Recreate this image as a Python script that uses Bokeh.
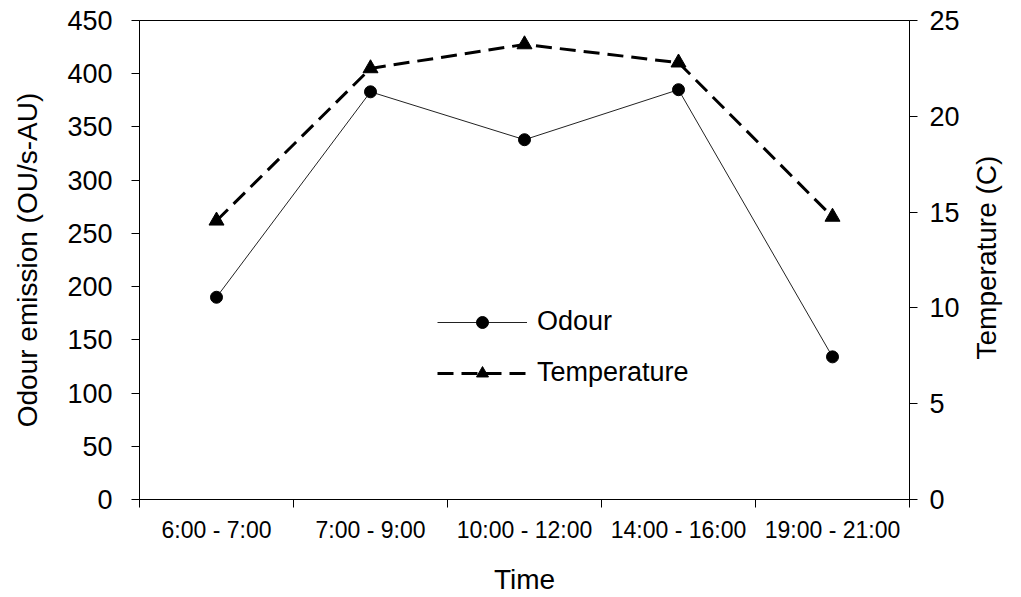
import numpy as np
from bokeh.plotting import figure
from bokeh.models import Range1d, LinearAxis, FixedTicker, Legend, LegendItem
from bokeh.embed import file_html
from bokeh.resources import INLINE

# ---- data ----
categories = ["6:00 - 7:00", "7:00 - 9:00", "10:00 - 12:00", "14:00 - 16:00", "19:00 - 21:00"]
odour = [190, 383, 338, 385, 134]
temperature = [14.55, 22.5, 23.75, 22.8, 14.75]
left_ticks = [0, 50, 100, 150, 200, 250, 300, 350, 400, 450]
right_ticks = [0, 5, 10, 15, 20, 25]

FONT = "Liberation Sans"

n = len(categories)
xc = list(np.arange(n) + 0.5)          # category centres
bounds = list(range(n + 1))            # category boundaries

BL, BR, BT, BB = 139, 111, 20, 98
FW, FH = 770, 479

p = figure(width=BL + FW + BR, height=BT + FH + BB, output_backend="svg", toolbar_location=None,
           x_range=Range1d(0, n), y_range=Range1d(left_ticks[0], left_ticks[-1]),
           min_border_left=BL, min_border_right=BR, min_border_top=BT, min_border_bottom=BB)
p.xgrid.visible = False
p.ygrid.visible = False
p.outline_line_color = "black"
p.outline_line_width = 1
p.background_fill_color = "white"
p.border_fill_color = "white"

p.extra_y_ranges = {"temp": Range1d(right_ticks[0], right_ticks[-1])}

# ---- series ----
l1 = p.line(xc, odour, line_color="#222222", line_width=1)
s1 = p.scatter(xc, odour, marker="circle", size=12, fill_color="black", line_color="black")
l2 = p.line(xc, temperature, y_range_name="temp", line_color="black", line_width=3, line_dash="16 8")
s2 = p.scatter(xc, temperature, y_range_name="temp", marker="triangle", size=15,
               fill_color="black", line_color="black")

# ---- x axis ----
xa = p.xaxis[0]
xa.ticker = FixedTicker(ticks=xc, minor_ticks=bounds)
xa.major_label_overrides = {float(v): c for v, c in zip(xc, categories)}
xa.major_tick_line_color = None
xa.major_tick_in = 0
xa.major_tick_out = 8
xa.minor_tick_in = 0
xa.minor_tick_out = 8
xa.minor_tick_line_color = "black"
xa.axis_line_color = "black"
xa.major_label_text_font = FONT
xa.major_label_text_font_size = "23px"
xa.major_label_text_color = "black"
xa.major_label_standoff = 9
xa.axis_label = "Time"
xa.axis_label_text_font = FONT
xa.axis_label_text_font_size = "28px"
xa.axis_label_text_font_style = "normal"
xa.axis_label_text_color = "black"
xa.axis_label_standoff = 18

# ---- left y axis ----
ya = p.yaxis[0]
ya.ticker = FixedTicker(ticks=left_ticks, minor_ticks=[])
ya.major_tick_in = 0
ya.major_tick_out = 8
ya.major_tick_line_color = "black"
ya.axis_line_color = "black"
ya.major_label_text_font = FONT
ya.major_label_text_font_size = "27px"
ya.major_label_text_color = "black"
ya.major_label_standoff = 19
ya.axis_label = "Odour emission (OU/s-AU)"
ya.axis_label_text_font = FONT
ya.axis_label_text_font_size = "28px"
ya.axis_label_text_font_style = "normal"
ya.axis_label_text_color = "black"
ya.axis_label_standoff = 21

# ---- right y axis ----
ra = LinearAxis(y_range_name="temp", ticker=FixedTicker(ticks=right_ticks, minor_ticks=[]))
ra.major_tick_in = 0
ra.major_tick_out = 8
ra.major_tick_line_color = "black"
ra.axis_line_color = "black"
ra.major_label_text_font = FONT
ra.major_label_text_font_size = "27px"
ra.major_label_text_color = "black"
ra.major_label_standoff = 12
# label reads bottom-to-top; anchored at the axis start, non-breaking spaces centre it
ra.axis_label = "\u00a0" * 18 + "Temperature (C)"
ra.axis_label_text_font = FONT
ra.axis_label_text_font_size = "28px"
ra.axis_label_text_font_style = "normal"
ra.axis_label_text_color = "black"
ra.axis_label_standoff = 24
ra.axis_label_orientation = np.pi / 2
ra.axis_label_align = "start"
p.add_layout(ra, "right")

# ---- legend ----
legend = Legend(items=[LegendItem(label="Odour", renderers=[l1, s1]),
                       LegendItem(label="Temperature", renderers=[l2, s2])],
                location=(298, 111), orientation="vertical",
                glyph_width=90, glyph_height=30, label_height=30, spacing=20,
                padding=0, margin=0, border_line_color=None, background_fill_alpha=0,
                label_text_font=FONT, label_text_font_size="27px", label_text_color="black",
                label_standoff=10)
p.add_layout(legend)

open("out.html", "w").write(file_html(p, INLINE))
